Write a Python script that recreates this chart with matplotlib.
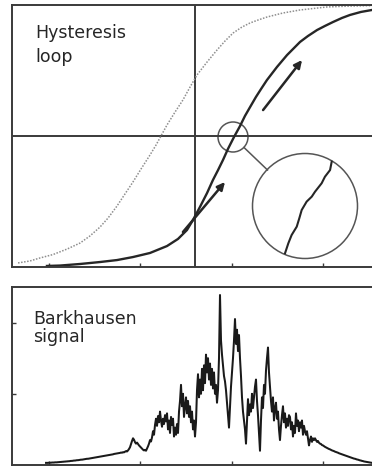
import numpy as np
import matplotlib
matplotlib.use("Agg")
import matplotlib.pyplot as plt
from matplotlib.patches import Ellipse

# ---------------- data ----------------
# Hysteresis loop: ascending branch (solid)
asc_h = [-0.809, -0.738, -0.628, -0.519, -0.426, -0.339, -0.246, -0.153, -0.093,
         -0.044, -0.011, 0.027, 0.066, 0.098, 0.126, 0.153, 0.180, 0.213, 0.246,
         0.273, 0.301, 0.333, 0.361, 0.393, 0.448, 0.503, 0.574, 0.617, 0.667,
         0.710, 0.754, 0.803, 0.847, 0.907, 0.967, 1.0]
asc_m = [-0.992, -0.989, -0.977, -0.962, -0.947, -0.924, -0.893, -0.840, -0.786,
         -0.718, -0.641, -0.542, -0.435, -0.336, -0.260, -0.183, -0.099, -0.008,
         0.076, 0.153, 0.221, 0.298, 0.359, 0.427, 0.527, 0.618, 0.718, 0.763,
         0.809, 0.840, 0.870, 0.901, 0.924, 0.947, 0.962, 0.966]
# descending branch (dotted)
desc_h = [-0.967, -0.902, -0.847, -0.776, -0.699, -0.628, -0.574, -0.519, -0.475,
          -0.426, -0.383, -0.339, -0.295, -0.246, -0.213, -0.186, -0.153, -0.109,
          -0.066, -0.027, 0.011, 0.066, 0.120, 0.164, 0.208, 0.257, 0.301, 0.344,
          0.393, 0.481, 0.574, 0.721, 0.847, 1.0]
desc_m = [-0.969, -0.954, -0.931, -0.905, -0.863, -0.817, -0.763, -0.695, -0.626,
          -0.534, -0.443, -0.351, -0.252, -0.145, -0.069, 0.0, 0.084, 0.183,
          0.275, 0.374, 0.466, 0.565, 0.656, 0.725, 0.786, 0.832, 0.863, 0.885,
          0.908, 0.939, 0.962, 0.985, 0.992, 0.996]
# magnified jagged segment inside the large circle
zoom_h = [0.747, 0.738, 0.710, 0.692, 0.656, 0.638, 0.610, 0.583, 0.570, 0.556,
          0.528, 0.510, 0.492]
zoom_m = [-0.196, -0.260, -0.311, -0.361, -0.425, -0.463, -0.501, -0.565, -0.628,
          -0.692, -0.756, -0.819, -0.895]
# arrows (tail h, tail m, head h, head m)
arrows = [(-0.066, -0.733, 0.164, -0.351), (0.372, 0.198, 0.585, 0.580)]

# Barkhausen signal, evenly sampled between bark_start and bark_end
bark_start, bark_end = -0.814, 0.967
bark_v = [
    0.012, 0.012, 0.012, 0.013, 0.013, 0.013, 0.014, 0.014, 0.014, 0.015,
    0.015, 0.015, 0.016, 0.016, 0.017, 0.017, 0.018, 0.018, 0.019, 0.019,
    0.020, 0.020, 0.021, 0.021, 0.022, 0.023, 0.023, 0.024, 0.025, 0.025,
    0.026, 0.027, 0.027, 0.028, 0.029, 0.030, 0.030, 0.031, 0.032, 0.033,
    0.034, 0.035, 0.035, 0.036, 0.037, 0.038, 0.039, 0.040, 0.041, 0.042,
    0.043, 0.044, 0.045, 0.046, 0.047, 0.048, 0.049, 0.050, 0.051, 0.052,
    0.053, 0.054, 0.055, 0.056, 0.057, 0.058, 0.059, 0.060, 0.062, 0.063,
    0.064, 0.065, 0.066, 0.067, 0.068, 0.070, 0.069, 0.072, 0.071, 0.075,
    0.078, 0.076, 0.082, 0.090, 0.100, 0.118, 0.135, 0.150, 0.142, 0.128,
    0.120, 0.126, 0.118, 0.110, 0.104, 0.098, 0.092, 0.086, 0.082, 0.085,
    0.080, 0.092, 0.105, 0.120, 0.140, 0.132, 0.155, 0.190, 0.170, 0.225,
    0.260, 0.220, 0.275, 0.240, 0.300, 0.250, 0.215, 0.260, 0.230, 0.280,
    0.245, 0.290, 0.200, 0.250, 0.180, 0.270, 0.225, 0.260, 0.160, 0.210,
    0.170, 0.230, 0.180, 0.300, 0.360, 0.450, 0.330, 0.400, 0.270, 0.330,
    0.380, 0.290, 0.360, 0.270, 0.330, 0.240, 0.300, 0.200, 0.250, 0.160,
    0.240, 0.420, 0.510, 0.380, 0.480, 0.400, 0.540, 0.420, 0.560, 0.460,
    0.620, 0.520, 0.600, 0.480, 0.570, 0.450, 0.540, 0.430, 0.520, 0.400,
    0.450, 0.350, 0.420, 0.600, 0.955, 0.700, 0.620, 0.560, 0.500, 0.470,
    0.420, 0.350, 0.280, 0.210, 0.330, 0.440, 0.520, 0.600, 0.700, 0.820,
    0.680, 0.760, 0.640, 0.730, 0.600, 0.500, 0.380, 0.300, 0.250, 0.200,
    0.120, 0.250, 0.370, 0.280, 0.340, 0.300, 0.400, 0.320, 0.380, 0.440,
    0.480, 0.360, 0.280, 0.180, 0.080, 0.250, 0.380, 0.320, 0.450, 0.400,
    0.530, 0.600, 0.660, 0.520, 0.440, 0.360, 0.300, 0.380, 0.250, 0.320,
    0.350, 0.260, 0.300, 0.200, 0.140, 0.220, 0.280, 0.330, 0.240, 0.290,
    0.210, 0.260, 0.220, 0.280, 0.270, 0.200, 0.240, 0.160, 0.220, 0.180,
    0.290, 0.220, 0.250, 0.190, 0.240, 0.210, 0.250, 0.170, 0.220, 0.190,
    0.170, 0.190, 0.150, 0.110, 0.140, 0.160, 0.130, 0.150, 0.140, 0.150,
    0.140, 0.130, 0.135, 0.125, 0.120, 0.118, 0.112, 0.110, 0.106, 0.102,
    0.099, 0.096, 0.093, 0.090, 0.088, 0.085, 0.082, 0.080, 0.078, 0.075,
    0.073, 0.071, 0.069, 0.066, 0.064, 0.062, 0.060, 0.058, 0.056, 0.054,
    0.052, 0.050, 0.048, 0.046, 0.044, 0.042, 0.040, 0.038, 0.036, 0.035,
    0.033, 0.031, 0.030, 0.028, 0.026, 0.025, 0.023, 0.022, 0.020, 0.019,
    0.018, 0.017, 0.016, 0.015, 0.014, 0.013, 0.012,
]
h_ticks = [-0.8, -0.3, 0.2, 0.7]
v_ticks = [0.4, 0.8]
top_label = ['Hysteresis', 'loop']
bottom_label = ['Barkhausen', 'signal']

# ---------------- figure ----------------
plt.rcParams['font.family'] = ['DejaVu Sans']
W, H = 372, 471
fig = plt.figure(figsize=(W / 100, H / 100), dpi=100)
frame_col = '#3a3a3a'

ax1 = fig.add_axes([12 / W, 1 - 267 / H, 366 / W, 262 / H])
ax2 = fig.add_axes([12 / W, 1 - 465 / H, 366 / W, 178 / H])

for ax in (ax1, ax2):
    for s in ax.spines.values():
        s.set_color(frame_col)
        s.set_linewidth(1.4)
    ax.set_xlim(-1, 1)
    ax.set_xticks(h_ticks)
    ax.set_xticklabels([])
    ax.tick_params(axis='both', direction='in', length=3, width=1.0,
                   color=frame_col, labelleft=False, labelbottom=False)

# top panel
ax1.set_ylim(-1, 1)
ax1.set_yticks([])
ax1.axhline(0, color=frame_col, lw=1.4)
ax1.axvline(0, color=frame_col, lw=1.4)
ax1.plot(desc_h, desc_m, color='#8e8e8e', lw=1.1, linestyle=(0, (1, 1)))
ax1.plot(asc_h, asc_m, color='#262626', lw=1.7)

# circles (radii given in pixels converted by axes scale)
pxh = 2.0 / 366  # data units per pixel horizontally
pxm = 2.0 / 262
small_c = ((233 - 195) * pxh, (136 - 137) * pxm)
big_c = ((305 - 195) * pxh, (136 - 206) * pxm)
ax1.add_patch(Ellipse(small_c, 2 * 15 * pxh, 2 * 15 * pxm, fill=False,
                      ec='#555555', lw=1.1))
ax1.add_patch(Ellipse(big_c, 2 * 52.5 * pxh, 2 * 52.5 * pxm, fill=False,
                      ec='#555555', lw=1.1))
ax1.plot([(244 - 195) * pxh, (267.5 - 195) * pxh],
         [(136 - 147.5) * pxm, (136 - 170) * pxm], color='#555555', lw=1.1)
ax1.plot(zoom_h, zoom_m, color='#262626', lw=1.5)

for (h0, m0, h1, m1) in arrows:
    ax1.annotate('', xy=(h1, m1), xytext=(h0, m0),
                 arrowprops=dict(arrowstyle='-|>,head_length=0.45,head_width=0.22',
                                 color='#262626', lw=1.8, shrinkA=0, shrinkB=0))

# bottom panel
ax2.set_ylim(0, 1)
ax2.set_yticks(v_ticks)
ax2.set_yticklabels([])
bark_h = np.linspace(bark_start, bark_end, len(bark_v))
ax2.plot(bark_h, bark_v, color='#1a1a1a', lw=1.45)

# labels (baselines placed in pixels)
txt = dict(ha='left', va='baseline', fontsize=12.5, color='#262626')
fig.text(35 / W, 1 - 37.5 / H, top_label[0], **txt)
fig.text(35 / W, 1 - 62 / H, top_label[1], **txt)
fig.text(33 / W, 1 - 323.5 / H, bottom_label[0], **txt)
fig.text(33 / W, 1 - 341.5 / H, bottom_label[1], **txt)

fig.savefig('out.png', dpi=100)
